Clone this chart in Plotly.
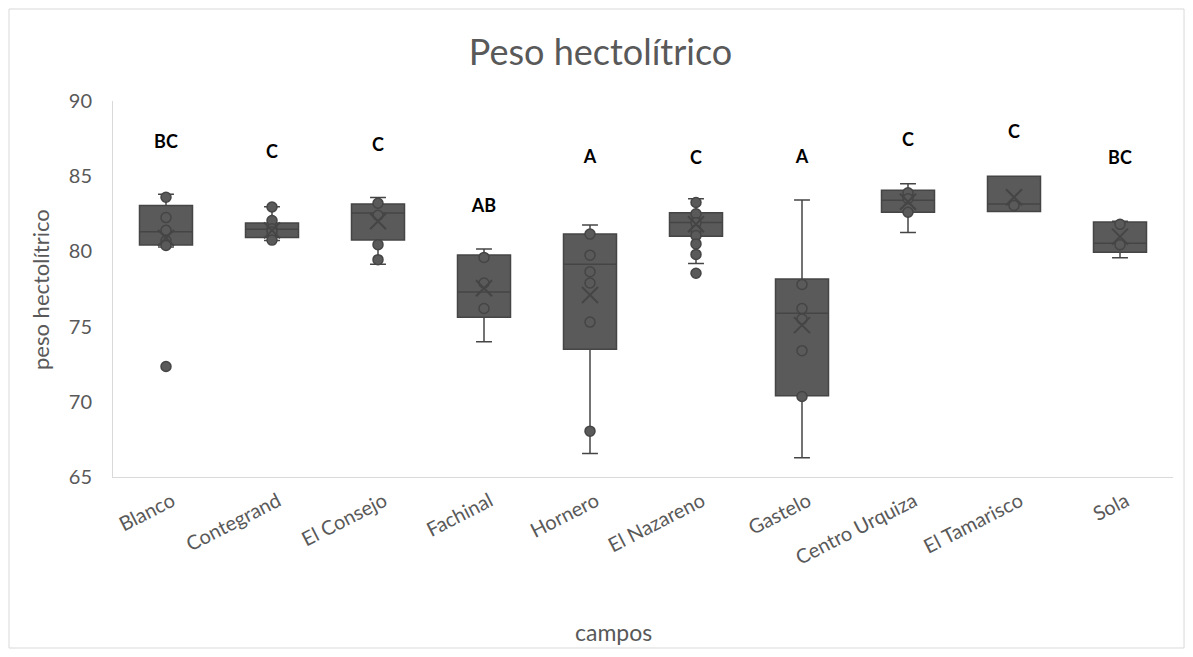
import plotly.graph_objects as go

categories = ["Blanco", "Contegrand", "El Consejo", "Fachinal", "Hornero",
              "El Nazareno", "Gastelo", "Centro Urquiza", "El Tamarisco", "Sola"]
q1 = [80.43, 80.92, 80.76, 75.62, 73.50, 81.00, 70.40, 82.60, 82.65, 79.94]
median = [81.30, 81.47, 82.55, 77.30, 79.15, 81.92, 75.88, 83.40, 83.15, 80.55]
q3 = [83.05, 81.88, 83.15, 79.76, 81.16, 82.57, 78.16, 84.06, 85.00, 81.95]
lower_whisker = [80.30, 80.72, 79.15, 74.00, 66.57, 79.20, 66.28, 81.25, 82.65, 79.58]
upper_whisker = [83.80, 82.97, 83.58, 80.16, 81.76, 83.50, 83.42, 84.50, 85.00, 82.00]
mean = [80.90, 81.40, 82.00, 77.55, 77.10, 81.80, 75.10, 83.30, 83.60, 80.98]
points = {
    "Blanco": [83.6, 82.25, 81.4, 80.7, 80.4, 72.35],
    "Contegrand": [82.95, 82.05, 81.5, 81.3, 80.75],
    "El Consejo": [83.2, 82.4, 80.45, 79.45],
    "Fachinal": [79.6, 77.9, 76.2],
    "Hornero": [81.15, 79.75, 78.65, 77.9, 75.3, 68.05],
    "El Nazareno": [83.25, 82.5, 81.9, 81.4, 81.05, 80.5, 79.8, 78.55],
    "Gastelo": [77.8, 76.2, 75.5, 73.4, 70.35],
    "Centro Urquiza": [83.9, 83.5, 82.6],
    "El Tamarisco": [83.05],
    "Sola": [81.8, 80.45],
}
group_letters = ["BC", "C", "C", "AB", "A", "C", "A", "C", "C", "BC"]
letter_y = [87.2, 86.5, 86.95, 82.95, 86.2, 86.1, 86.2, 87.3, 87.85, 86.1]

FONT = "Lato, Open Sans, sans-serif"
GRAY = "#595959"
BOX = "#5a5a5a"
EDGE = "#454545"

fig = go.Figure()
fig.add_trace(go.Box(
    x=categories, q1=q1, median=median, q3=q3,
    lowerfence=lower_whisker, upperfence=upper_whisker,
    boxpoints=False, fillcolor=BOX,
    line=dict(color=EDGE, width=1.5),
    whiskerwidth=0.3, width=0.5, showlegend=False,
))

px_, py_ = [], []
for c in categories:
    for v in points[c]:
        px_.append(c)
        py_.append(v)
fig.add_trace(go.Scatter(
    x=px_, y=py_, mode="markers", showlegend=False,
    marker=dict(size=10, color=BOX, line=dict(color=EDGE, width=1.5)),
))
fig.add_trace(go.Scatter(
    x=categories, y=mean, mode="markers", showlegend=False,
    marker=dict(symbol="x-thin", size=16, color=EDGE, line=dict(color=EDGE, width=2)),
))
fig.add_trace(go.Scatter(
    x=categories, y=letter_y, mode="text", text=group_letters, showlegend=False,
    textfont=dict(family=FONT, size=18, color="black", weight="bold"),
))

fig.update_layout(
    width=1185, height=649,
    margin=dict(l=105, r=20, t=93, b=180),
    paper_bgcolor="white", plot_bgcolor="white",
    title=dict(text="Peso hectolítrico", x=0.5, xanchor="center",
               y=0.932, yanchor="middle",
               font=dict(family=FONT, size=36, color=GRAY)),
    font=dict(family=FONT, color=GRAY),
)
fig.update_xaxes(
    type="category", range=[-0.5, len(categories) - 0.5],
    tickangle=-27, tickfont=dict(size=20, color=GRAY),
    showline=True, linecolor="#d9d9d9", linewidth=1, showgrid=False,
    ticklabelstandoff=4, ticklabelshift=6,
)
fig.update_yaxes(
    range=[65, 90], dtick=5, tickfont=dict(size=20, color=GRAY),
    showline=True, linecolor="#d9d9d9", linewidth=1, showgrid=False, zeroline=False,
    ticklabelstandoff=16,
)
fig.add_annotation(text="peso hectolítrico", xref="paper", yref="paper",
                   x=-0.0689, y=0.5, textangle=-90, showarrow=False,
                   xanchor="center", yanchor="middle",
                   font=dict(family=FONT, size=22, color=GRAY))
fig.add_annotation(text="campos", xref="paper", yref="paper",
                   x=0.4726, y=-0.412, showarrow=False,
                   xanchor="center", yanchor="middle",
                   font=dict(family=FONT, size=23, color=GRAY))
fig.add_shape(type="rect", xref="paper", yref="paper",
              x0=-0.0981, x1=1.0104, y0=-0.4548, y1=1.2447,
              line=dict(color="#d9d9d9", width=1), fillcolor="rgba(0,0,0,0)", layer="below")

fig.write_html("out.html")
